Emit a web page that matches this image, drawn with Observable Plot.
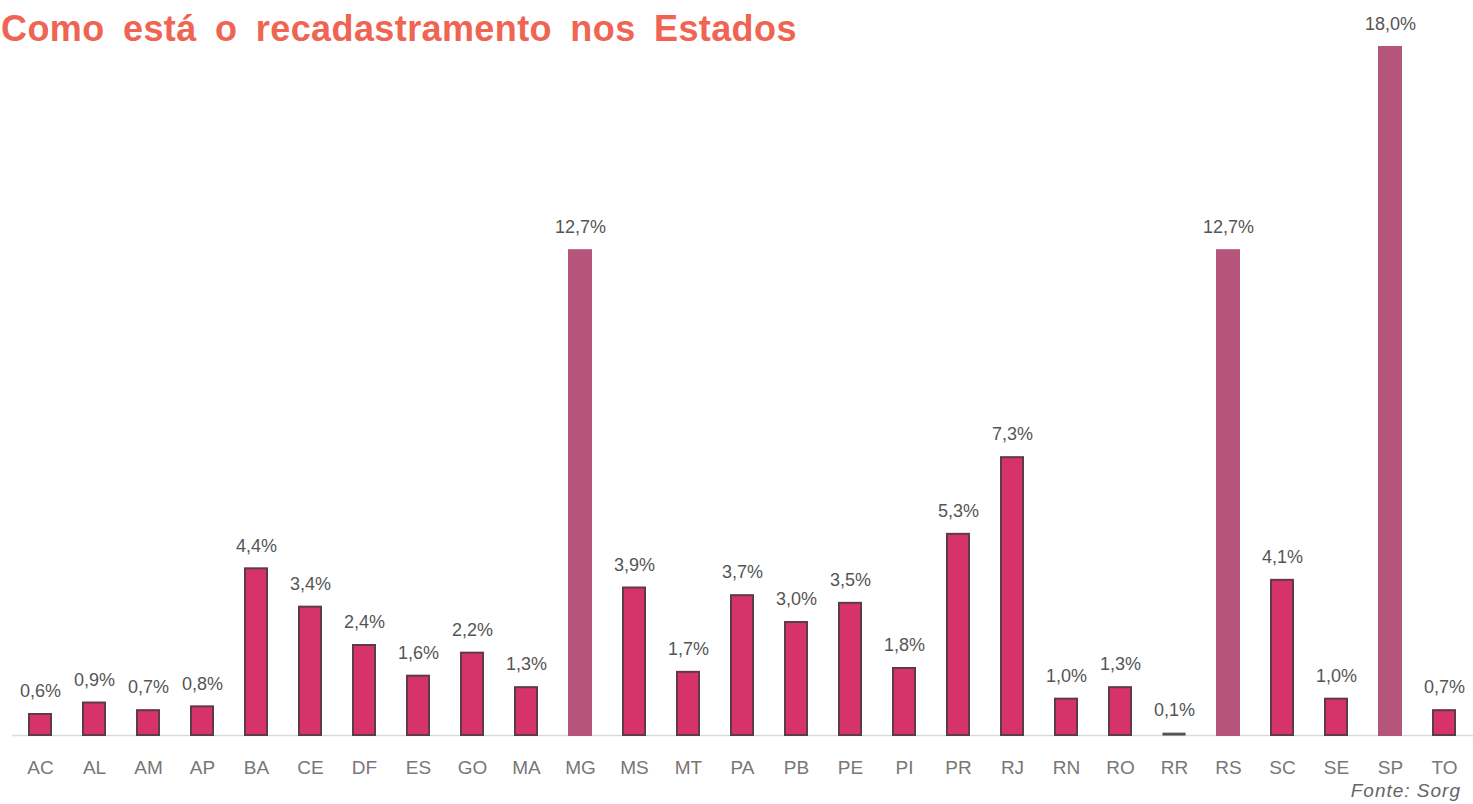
<!DOCTYPE html>
<html>
<head>
<meta charset="utf-8">
<script src="https://cdn.jsdelivr.net/npm/d3@7"></script>
<script src="https://cdn.jsdelivr.net/npm/@observablehq/plot@0.6"></script>
<style>
  html, body { margin: 0; padding: 0; background: #fff; }
  #wrap { position: relative; width: 1473px; height: 804px; overflow: hidden; }
  #title { position: absolute; left: 1px; top: 8px; font-family: "Liberation Sans", Arial, sans-serif;
    font-weight: bold; font-size: 36px; color: #ef6452; letter-spacing: 0.4px; word-spacing: 8px; white-space: nowrap; }
  #source { position: absolute; right: 12px; top: 780px; font-family: "Liberation Sans", Arial, sans-serif;
    font-style: italic; font-size: 19px; color: #666; letter-spacing: 1px; }
</style>
</head>
<body>
<div id="wrap">
  <div id="chart"></div>
  <div id="title">Como está o recadastramento nos Estados</div>
  <div id="source">Fonte: Sorg</div>
</div>
<script>
const states = ["AC","AL","AM","AP","BA","CE","DF","ES","GO","MA","MG","MS","MT","PA","PB","PE","PI","PR","RJ","RN","RO","RR","RS","SC","SE","SP","TO"];
const values = [0.6,0.9,0.7,0.8,4.4,3.4,2.4,1.6,2.2,1.3,12.7,3.9,1.7,3.7,3.0,3.5,1.8,5.3,7.3,1.0,1.3,0.1,12.7,4.1,1.0,18.0,0.7];
const labels = ["0,6%","0,9%","0,7%","0,8%","4,4%","3,4%","2,4%","1,6%","2,2%","1,3%","12,7%","3,9%","1,7%","3,7%","3,0%","3,5%","1,8%","5,3%","7,3%","1,0%","1,3%","0,1%","12,7%","4,1%","1,0%","18,0%","0,7%"];
const highlight = ["MG","RS","SP"];

const data = states.map((s, i) => ({state: s, value: values[i], label: labels[i], big: highlight.includes(s)}));
const normal = data.filter(d => !d.big && d.state !== "RR");
const big = data.filter(d => d.big);
const tiny = data.filter(d => d.state === "RR");

const chart = Plot.plot({
  width: 1473,
  height: 804,
  marginLeft: 12,
  marginRight: 0,
  marginTop: 46,
  marginBottom: 68,
  style: {fontFamily: "'Liberation Sans', Arial, sans-serif", background: "transparent"},
  x: {domain: states, padding: 0.55, paddingOuter: 0.235, axis: null},
  y: {domain: [0, 18], axis: null},
  marks: [
    Plot.ruleY([0], {stroke: "#d8dde0", strokeWidth: 1.5, dy: -1}),
    Plot.barY(normal, {x: "state", y: "value", fill: "#d6336a", stroke: "#5e3b48", strokeWidth: 2, inset: 1}),
    Plot.barY(big, {x: "state", y: "value", fill: "#b6557a"}),
    Plot.barY(tiny, {x: "state", y: "value", fill: "#5a5a5a", stroke: "#4a4a4a", strokeWidth: 1, inset: 1}),
    Plot.text(data, {x: "state", y: "value", text: "label", dy: -22, lineAnchor: "middle", fontSize: 18, fill: "#555", letterSpacing: -0.6}),
    Plot.text(data, {x: "state", y: () => 0, text: "state", dy: 31, lineAnchor: "middle", fontSize: 19, fill: "#777", letterSpacing: -1.5})
  ]
});
document.getElementById("chart").appendChild(chart);
</script>
</body>
</html>
